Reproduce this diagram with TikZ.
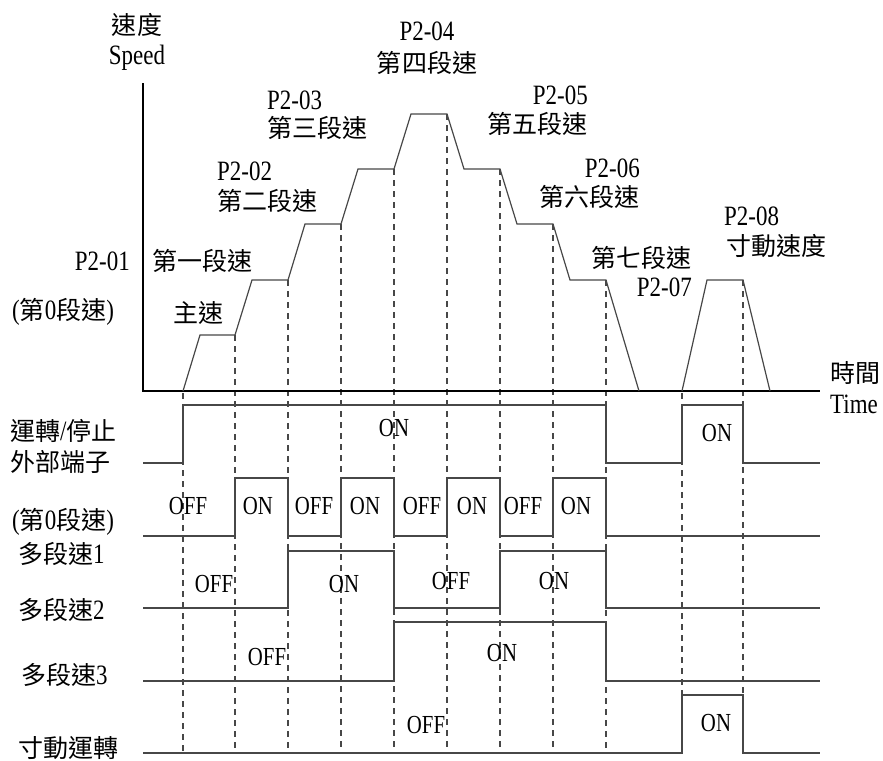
\documentclass[tikz,border=0pt]{standalone}
\usepackage{fontspec}
\setmainfont{Liberation Serif}[FakeStretch=0.82]
\newfontfamily\cjk{Noto Sans CJK TC}[Scale=0.893]
\newfontfamily\onofffont{Liberation Serif}[FakeStretch=0.8]
\definecolor{ln}{rgb}{0.28,0.28,0.28}
\begin{document}
\begin{tikzpicture}[x=1pt,y=-1pt,
  lbl/.style={inner sep=0pt,font=\fontsize{28}{31}\selectfont},
  onoff/.style={inner sep=0pt,font=\onofffont\fontsize{26}{29}\selectfont},
  axisline/.style={draw=black,line width=1.2pt},
  curve/.style={draw=ln,line width=1.2pt},
  sig/.style={draw=ln,line width=1.3pt},
  guide/.style={draw=ln,line width=1.1pt,dash pattern=on 6pt off 5pt}]
\useasboundingbox (0,0) rectangle (883,760);
% guide dashed lines
\draw[guide] (183,393) -- (183,753);
\draw[guide] (235,335) -- (235,753);
\draw[guide] (288,280) -- (288,753);
\draw[guide] (341,224) -- (341,753);
\draw[guide] (394,169) -- (394,753);
\draw[guide] (447,114) -- (447,753);
\draw[guide] (500,169) -- (500,753);
\draw[guide] (553,224) -- (553,753);
\draw[guide] (606,280) -- (606,753);
\draw[guide] (682,393) -- (682,753);
\draw[guide] (743,280) -- (743,753);
% axes
\draw[axisline] (143,83) -- (143,391) -- (820,391);
% speed profile
\draw[curve] (183,391) -- (200,335) -- (235,335) -- (252,280) -- (288,280) -- (305,224) -- (341,224)
  -- (358,169) -- (394,169) -- (411,114) -- (447,114) -- (464,169) -- (500,169) -- (517,224)
  -- (553,224) -- (570,280) -- (606,280) -- (639,391);
\draw[curve] (682,391) -- (707,280) -- (743,280) -- (770,391);
% signals
\draw[sig] (143,463) -- (183,463) -- (183,405) -- (606,405) -- (606,463) -- (682,463) -- (682,405) -- (743,405) -- (743,463) -- (820,463);
\draw[sig] (143,536) -- (235,536) -- (235,478) -- (288,478) -- (288,536) -- (341,536) -- (341,478) -- (394,478) -- (394,536)
  -- (447,536) -- (447,478) -- (500,478) -- (500,536) -- (553,536) -- (553,478) -- (606,478) -- (606,536) -- (820,536);
\draw[sig] (143,608) -- (288,608) -- (288,551) -- (394,551) -- (394,608) -- (500,608) -- (500,551) -- (606,551) -- (606,608) -- (820,608);
\draw[sig] (143,681) -- (394,681) -- (394,622) -- (606,622) -- (606,681) -- (820,681);
\draw[sig] (143,753) -- (682,753) -- (682,695) -- (743,695) -- (743,753) -- (820,753);
% axis labels
\node[lbl] (sp1) at (137,25) {\cjk 速度};
\node[lbl] (sp2) at (137,58) {Speed};
\node[lbl,anchor=west] (t1) at (830,373) {\cjk 時間};
\node[lbl,anchor=west] (t2) at (830,404) {Time};
% step labels
\node[lbl] (p4) at (427,31) {P2-04};
\node[lbl] (s4) at (427,63) {\cjk 第四段速};
\node[lbl,anchor=west] (p3) at (267,100) {P2-03};
\node[lbl,anchor=west] (s3) at (267,128) {\cjk 第三段速};
\node[lbl,anchor=west] (p2) at (217,171) {P2-02};
\node[lbl,anchor=west] (s2) at (217,201) {\cjk 第二段速};
\node[lbl,anchor=east] (p1) at (130,261) {P2-01};
\node[lbl,anchor=west] (s1) at (152,261) {\cjk 第一段速};
\node[lbl,anchor=west] (s0) at (12,312) {(\cjk 第\rmfamily 0\cjk 段速\rmfamily)};
\node[lbl,anchor=west] (s0b) at (173,313) {\cjk 主速};
\node[lbl,anchor=east] (p5) at (588,95) {P2-05};
\node[lbl,anchor=east] (s5) at (588,124) {\cjk 第五段速};
\node[lbl,anchor=east] (p6) at (640,168) {P2-06};
\node[lbl,anchor=east] (s6) at (640,197) {\cjk 第六段速};
\node[lbl,anchor=east] (s7) at (692,258) {\cjk 第七段速};
\node[lbl,anchor=east] (p7) at (692,287) {P2-07};
\node[lbl,anchor=west] (p8) at (724,216) {P2-08};
\node[lbl,anchor=west] (s8) at (726,246) {\cjk 寸動速度};
% row labels
\node[lbl,anchor=west] (r1a) at (10,431) {\cjk 運轉\rmfamily/\cjk 停止};
\node[lbl,anchor=west] (r1b) at (10,462) {\cjk 外部端子};
\node[lbl,anchor=west] (r2a) at (12,522) {(\cjk 第\rmfamily 0\cjk 段速\rmfamily)};
\node[lbl,anchor=west] (r2b) at (18,554) {\cjk 多段速\rmfamily 1};
\node[lbl,anchor=west] (r3) at (18,610) {\cjk 多段速\rmfamily 2};
\node[lbl,anchor=west] (r4) at (21,675) {\cjk 多段速\rmfamily 3};
\node[lbl,anchor=west] (r5) at (18,748) {\cjk 寸動運轉};
% ON/OFF
\node[onoff] (a1) at (394,428) {ON};
\node[onoff] (a2) at (717,433) {ON};
\node[onoff] (b1) at (188,506) {OFF};
\node[onoff] (b2) at (258,506) {ON};
\node[onoff] (b3) at (314,506) {OFF};
\node[onoff] (b4) at (365,506) {ON};
\node[onoff] (b5) at (422,506) {OFF};
\node[onoff] (b6) at (472,506) {ON};
\node[onoff] (b7) at (523,506) {OFF};
\node[onoff] (b8) at (576,506) {ON};
\node[onoff] (c1) at (214,584) {OFF};
\node[onoff] (c2) at (344,584) {ON};
\node[onoff] (c3) at (451,581) {OFF};
\node[onoff] (c4) at (554,581) {ON};
\node[onoff] (d1) at (267,657) {OFF};
\node[onoff] (d2) at (502,653) {ON};
\node[onoff] (e1) at (426,725) {OFF};
\node[onoff] (e2) at (716,723) {ON};
\end{tikzpicture}
\end{document}
